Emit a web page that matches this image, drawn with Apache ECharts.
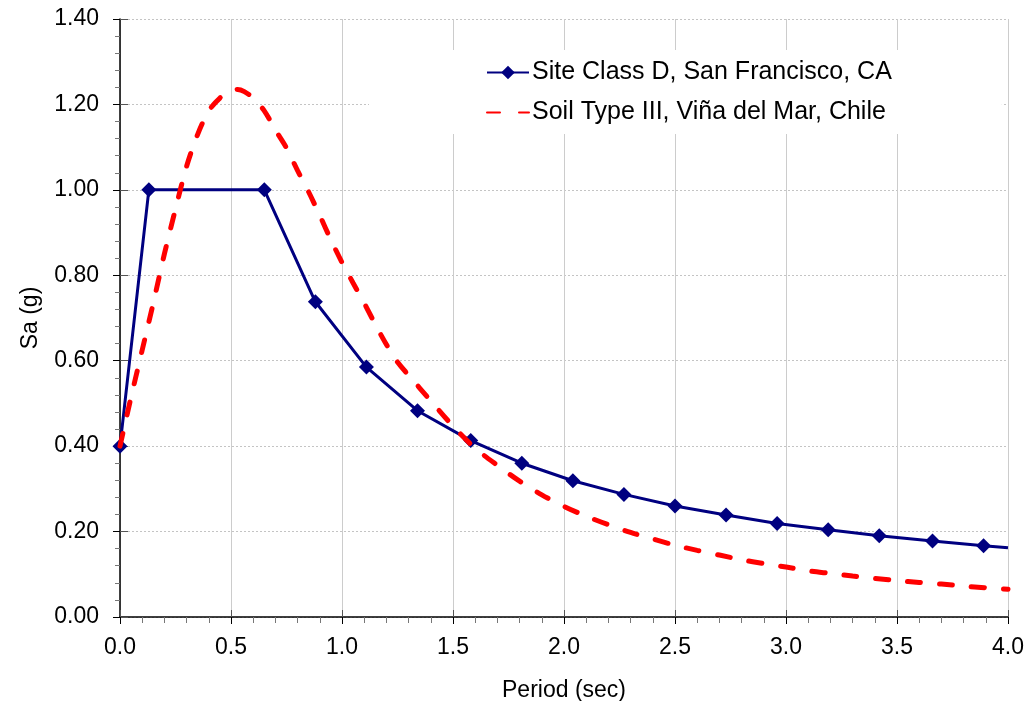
<!DOCTYPE html>
<html>
<head>
<meta charset="utf-8">
<script src="https://cdn.jsdelivr.net/npm/echarts@6/dist/echarts.min.js"></script>
<style>
html,body{margin:0;padding:0;background:#fff;}
#chart{width:1035px;height:701px;}
</style>
</head>
<body>
<div id="chart"></div>
<script>
// Data
var seriesNames = ['Site Class D, San Francisco, CA', 'Soil Type III, Viña del Mar, Chile'];

// Site Class D, San Francisco, CA (period in sec, Sa in g)
var siteDPeriod = [0, 0.13, 0.65, 0.88, 1.11, 1.34, 1.58, 1.81, 2.04, 2.27, 2.50, 2.73, 2.96, 3.19, 3.42, 3.66, 3.89, 4.00];
var siteDSa     = [0.40, 1.00, 1.00, 0.738, 0.585, 0.483, 0.413, 0.360, 0.319, 0.287, 0.260, 0.239, 0.219, 0.204, 0.190, 0.178, 0.167, 0.162];

// Soil Type III, Viña del Mar, Chile
var vinaPeriod = [0, 0.05, 0.10, 0.15, 0.20, 0.25, 0.30, 0.35, 0.40, 0.45, 0.50, 0.53, 0.56, 0.60, 0.65, 0.70, 0.75, 0.80, 0.85, 0.90, 0.95, 1.00, 1.05, 1.10, 1.15, 1.20, 1.25, 1.30, 1.40, 1.50, 1.60, 1.70, 1.80, 1.90, 2.00, 2.10, 2.20, 2.30, 2.40, 2.50, 2.60, 2.70, 2.80, 2.90, 3.00, 3.10, 3.20, 3.30, 3.40, 3.50, 3.60, 3.70, 3.80, 3.90, 4.00];
var vinaSa     = [0.40, 0.515, 0.625, 0.735, 0.85, 0.955, 1.055, 1.13, 1.185, 1.215, 1.232, 1.235, 1.23, 1.215, 1.185, 1.14, 1.098, 1.045, 0.995, 0.94, 0.883, 0.83, 0.782, 0.735, 0.685, 0.638, 0.597, 0.566, 0.506, 0.447, 0.395, 0.355, 0.318, 0.286, 0.259, 0.236, 0.216, 0.198, 0.183, 0.168, 0.156, 0.145, 0.134, 0.125, 0.117, 0.108, 0.102, 0.096, 0.0905, 0.0855, 0.081, 0.077, 0.0725, 0.0685, 0.065];

var xTitle = 'Period (sec)';
var yTitle = 'Sa (g)';

var FONT = '"Liberation Sans", Arial, sans-serif';

var blueData = siteDPeriod.map(function (t, i) {
  var d = { value: [t, siteDSa[i]] };
  if (i === siteDPeriod.length - 1) { d.symbol = 'none'; }
  return d;
});
var redData = vinaPeriod.map(function (t, i) { return [t, vinaSa[i]]; });

var chart = echarts.init(document.getElementById('chart'), null, { renderer: 'canvas' });
chart.setOption({
  animation: false,
  backgroundColor: '#ffffff',
  grid: { left: 120, right: 27, top: 19, bottom: 84, containLabel: false, outerBoundsMode: 'none' },
  legend: {
    orient: 'vertical',
    left: 369,
    top: 50,
    backgroundColor: '#ffffff',
    padding: [10, 110, 9, 117],
    itemGap: 15,
    itemWidth: 42,
    itemHeight: 17,
    textStyle: { fontFamily: FONT, fontSize: 25, color: '#000', lineHeight: 24, padding: [0, 0, 0, -2] },
    data: [
      { name: seriesNames[0] },
      { name: seriesNames[1], itemStyle: { opacity: 0 } }
    ]
  },
  xAxis: [{
    type: 'value', min: 0, max: 4, interval: 0.5,
    name: xTitle, nameLocation: 'middle', nameGap: 62,
    nameTextStyle: { fontFamily: FONT, fontSize: 23, color: '#000' },
    axisLine: { show: true, onZero: false, lineStyle: { color: '#000', width: 1.5 } },
    axisTick: { show: true, length: 7, lineStyle: { color: '#000', width: 1 } },
    minorTick: { show: true, splitNumber: 5, length: 6, lineStyle: { color: '#777', width: 1 } },
    axisLabel: { fontFamily: FONT, fontSize: 23, color: '#000', margin: 19,
      formatter: function (v) { return v.toFixed(1); } },
    splitLine: { show: true, lineStyle: { color: '#cccccc', width: 1, type: 'solid' } }
  }, {
    type: 'value', min: 0, max: 4, interval: 0.5, position: 'bottom',
    axisLine: { show: false },
    axisTick: { show: true, inside: true, length: 7, lineStyle: { color: '#555', width: 1 } },
    axisLabel: { show: false }, splitLine: { show: false }
  }],
  yAxis: [{
    type: 'value', min: 0, max: 1.4, interval: 0.2,
    name: yTitle, nameLocation: 'middle', nameGap: 78, nameRotate: 90,
    nameTextStyle: { fontFamily: FONT, fontSize: 23, color: '#000' },
    axisLine: { show: true, onZero: false, lineStyle: { color: '#000', width: 1.5 } },
    axisTick: { show: true, length: 7, lineStyle: { color: '#000', width: 1 } },
    minorTick: { show: true, splitNumber: 5, length: 5, lineStyle: { color: '#777', width: 1 } },
    axisLabel: { fontFamily: FONT, fontSize: 23, color: '#000', margin: 21,
      formatter: function (v) { return v.toFixed(2); } },
    splitLine: { show: true, lineStyle: { color: '#c4c4c4', width: 1, type: [2, 2] } }
  }, {
    type: 'value', min: 0, max: 1.4, interval: 0.2, position: 'left',
    axisLine: { show: false },
    axisTick: { show: true, inside: true, length: 8, lineStyle: { color: '#555', width: 1 } },
    axisLabel: { show: false }, splitLine: { show: false }
  }],
  series: [{
    name: seriesNames[0],
    type: 'line',
    xAxisIndex: 0, yAxisIndex: 0,
    data: blueData,
    symbol: 'diamond',
    symbolSize: 15,
    showSymbol: true,
    itemStyle: { color: '#000080' },
    lineStyle: { color: '#000080', width: 3 },
    z: 3
  }, {
    name: seriesNames[1],
    type: 'line',
    xAxisIndex: 0, yAxisIndex: 0,
    data: redData,
    smooth: 0.3,
    showSymbol: false,
    symbol: 'none',
    itemStyle: { color: '#ff0000' },
    lineStyle: { color: '#ff0000', width: 5, type: [13, 19], cap: 'round' },
    z: 4
  }]
});
</script>
</body>
</html>
